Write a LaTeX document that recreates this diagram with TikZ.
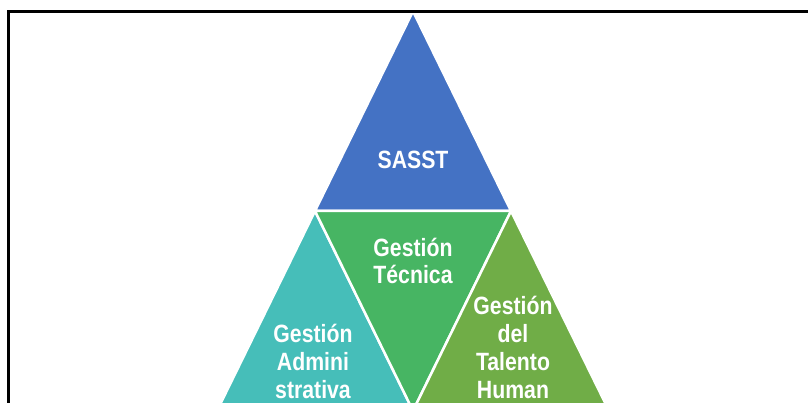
\documentclass[tikz,border=0pt]{standalone}
\usepackage{fontspec}
\usepackage{xcolor}
\usepackage{tikz}
\newfontfamily\pyrfont{Liberation Sans}[FakeStretch=0.85]

\definecolor{sasstblue}{HTML}{4472C4}
\definecolor{admteal}{HTML}{46BEB9}
\definecolor{tecgreen}{HTML}{47B563}
\definecolor{talgreen}{HTML}{70AD47}

\begin{document}
\begin{tikzpicture}[x=1pt, y=-1pt,
  piece/.style={draw=white, line width=2.5pt},
  lbl/.style={text=white, align=center, inner sep=0pt,
    font=\pyrfont\bfseries\fontsize{25}{27.7}\selectfont}]
\useasboundingbox (0,0) rectangle (808,403);

\coordinate (apex) at (413,11.2);
\coordinate (midl) at (315,211);
\coordinate (midr) at (511,211);
\coordinate (botl) at (217,410.8);
\coordinate (botm) at (413,410.8);
\coordinate (botr) at (609,410.8);

\fill[sasstblue, piece] (apex) -- (midr) -- (midl) -- cycle;
\fill[admteal, piece] (midl) -- (botm) -- (botl) -- cycle;
\fill[tecgreen, piece] (midl) -- (midr) -- (botm) -- cycle;
\fill[talgreen, piece] (midr) -- (botr) -- (botm) -- cycle;

\node[lbl] (sasst) at (413,160) {SASST};
\node[lbl] (tecnica) at (413,261) {Gestión\\Técnica};
\node[lbl] (admin) at (313,361.5) {Gestión\\Admini\\strativa};
\node[lbl] (talento) at (513,347.5) {Gestión\\del\\Talento\\Human};

\draw[line width=3pt] (8,430) -- (8,11.3) -- (830,11.3);
\end{tikzpicture}
\end{document}
